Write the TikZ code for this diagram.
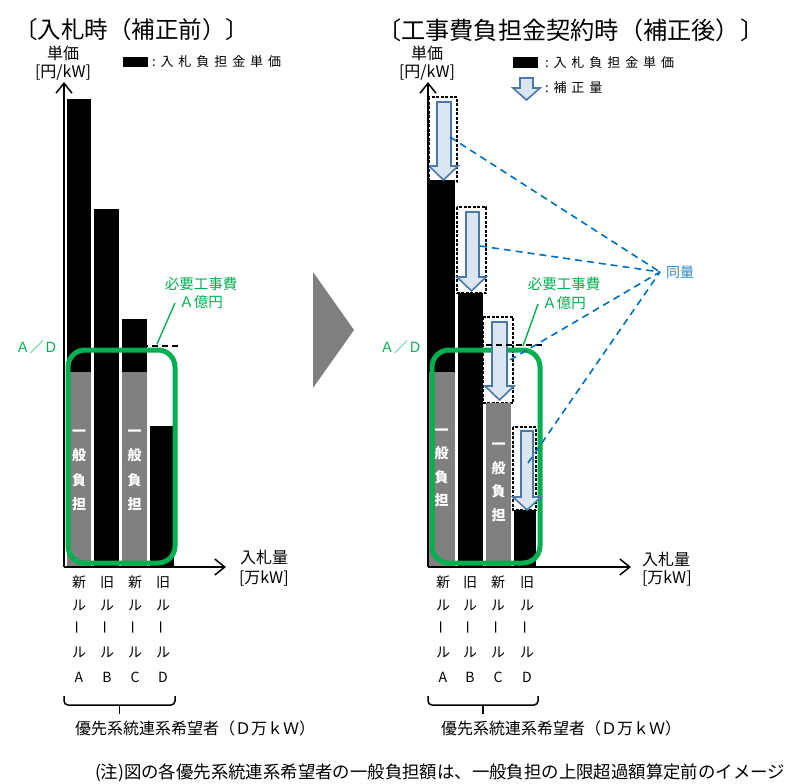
\documentclass[tikz,border=0pt]{standalone}
\usepackage{fontspec}
\setmainfont{Noto Sans CJK JP}
\newfontfamily\lsfont[LetterSpace=38]{Noto Sans CJK JP}
\usetikzlibrary{arrows.meta}
\definecolor{grn}{HTML}{00B050}
\definecolor{dblue}{HTML}{0070C0}
\definecolor{qblue}{HTML}{2E86C8}
\definecolor{afill}{HTML}{DCE6F2}
\definecolor{aline}{HTML}{4A78AA}
\definecolor{gbar}{HTML}{808080}
\definecolor{tri}{HTML}{7F7F7F}
\newcommand\fsz[2]{\fontsize{#1}{#2}\selectfont}
\newcommand\blkarrow[7]{%
  \filldraw[blkarr] (#3,#5) -- (#4,#5) -- (#4,#6) -- (#2,#6) -- ({(#1+#2)/2},#7) -- (#1,#6) -- (#3,#6) -- cycle;}
\tikzset{
  txt/.style={inner sep=0pt, outer sep=0pt},
  axisline/.style={line width=1.5pt, -{Straight Barb[length=10pt,width=16pt]}},
  grnbox/.style={draw=grn, line width=5pt, rounded corners=17pt},
  blkdash/.style={line width=1.3pt, dash pattern=on 6pt off 4pt},
  oldbox/.style={draw=black, fill=white, line width=1.6pt, dash pattern=on 3pt off 1.5pt},
  blkarr/.style={fill=afill, draw=aline, line width=1.6pt, line join=miter},
  bdash/.style={draw=dblue, line width=1.6pt, dash pattern=on 7pt off 5pt},
  leader/.style={draw=grn, line width=1.4pt},
  gtext/.style={txt, text=grn, font=\fsz{14.5}{18}},
  wtext/.style={txt, text=white, align=center, font=\bfseries\fsz{14}{24.5}},
  cat/.style={txt, font=\fsz{14}{16}},
  brace/.style={line width=1.5pt}
}
\begin{document}
\begin{tikzpicture}[x=1pt,y=-1pt]
\useasboundingbox (0,0) rectangle (787,784);

% ---------- titles ----------
\node[txt, anchor=west, font=\fsz{23.5}{26}] (t1) at (14,30) {〔入札時（補正前）〕};
\node[txt, anchor=west, font=\fsz{24.2}{26}] (t2) at (377,30) {〔工事費負担金契約時（補正後）〕};

% ---------- left chart ----------
\draw[blkdash] (122,346) -- (180,346);
\fill[black] (67,99) rectangle (91,372);
\fill[gbar] (67,372) rectangle (91,567);
\fill[black] (94,209) rectangle (119,567);
\fill[black] (122,319) rectangle (147,372);
\fill[gbar] (122,372) rectangle (147,567);
\fill[black] (150,426) rectangle (174,567);
\draw[grnbox] (68,350) rectangle (175,563);
\node[wtext] (lga) at (79,470.5) {一\\般\\負\\担};
\node[wtext] (lgc) at (134.5,470.5) {一\\般\\負\\担};

\coordinate (lo) at (64,567);
\coordinate (lyt) at (64,82);
\coordinate (lxt) at (226,567);
\draw[axisline] (lo) -- (lyt);
\draw[axisline] (lo) -- (lxt);

\node[txt, font=\fsz{16}{18}] (ly1) at (63,53) {単価};
\node[txt, font=\fsz{16}{18}] (ly2) at (63,73) {[円/kW]};
\node[txt, anchor=west, font=\fsz{16}{18}] (lx1) at (240,557) {入札量};
\node[txt, anchor=west, font=\fsz{16}{18}] (lx2) at (239,578) {[万kW]};

\fill[black] (123,57) rectangle (148,67);
\node[txt, anchor=west, font=\fsz{13}{15}\lsfont] (lleg) at (152,62) {:入札負担金単価};

\node[txt, text=grn, font=\fsz{14}{16}] (lad) at (37,347) {Ａ／Ｄ};
\node[gtext] (lk1) at (201,284) {必要工事費};
\node[gtext] (lk2) at (201,302) {Ａ億円};
\coordinate (lkt) at (175,303);
\coordinate (lkb) at (157,344);
\draw[leader] (lkt) -- (lkb);

\foreach \cx/\a/\b [count=\i] in {79/新/A, 107/旧/B, 135/新/C, 163/旧/D}{
  \node[cat] (lc\i a) at (\cx,582) {\a};
  \node[cat] (lc\i b) at (\cx,605) {ル};
  \node[cat, rotate=90] (lc\i c) at (\cx,627) {ー};
  \node[cat] (lc\i d) at (\cx,652) {ル};
  \node[cat] (lc\i e) at (\cx,677) {\b};
}
\draw[brace] (64,696) -- (64,701) to[out=-90,in=180] (68,705) -- (171,705) to[out=0,in=-90] (175,701) -- (175,696);
\draw[brace] (119.5,705) -- (119.5,714);
\node[txt, font=\fsz{16}{18}] (lgrp) at (195,728) {優先系統連系希望者（Ｄ万ｋＷ）};

% ---------- middle triangle ----------
\fill[tri] (313,272) -- (354,330) -- (313,388) -- cycle;

% ---------- right chart ----------
\draw[oldbox] (429,97) rectangle (457,182);
\draw[oldbox] (457,207) rectangle (486,293);
\draw[oldbox] (483,317) rectangle (513,403);
\draw[oldbox] (513,427) rectangle (536,510);
\fill[black] (428,180) rectangle (455,372);
\fill[gbar] (428,372) rectangle (455,567);
\fill[black] (458,293) rectangle (483,567);
\fill[gbar] (486,403) rectangle (511,567);
\fill[black] (514,510) rectangle (536,567);
\draw[grnbox] (432,350) rectangle (540,563);
\node[wtext, font=\bfseries\fsz{14}{23.5}] (rga) at (441.5,468) {一\\般\\負\\担};
\node[wtext, font=\bfseries\fsz{14}{23.5}] (rgc) at (498.5,482.5) {一\\般\\負\\担};

\blkarrow{429}{458}{437}{451}{102}{166}{180}
\blkarrow{457}{486}{466}{479}{212}{277}{291}
\blkarrow{485}{514}{492}{507}{322}{386}{400}
\blkarrow{513}{541}{521}{533}{431}{497}{510}
\draw[blkdash] (486,345) -- (543,345);

\coordinate (ro) at (428,567);
\coordinate (ryt) at (428,82);
\coordinate (rxt) at (631,567);
\draw[axisline] (ro) -- (ryt);
\draw[axisline] (ro) -- (rxt);

\node[txt, font=\fsz{16}{18}] (ry1) at (427,53) {単価};
\node[txt, font=\fsz{16}{18}] (ry2) at (427,73) {[円/kW]};
\node[txt, anchor=west, font=\fsz{16}{18}] (rx1) at (642,559) {入札量};
\node[txt, anchor=west, font=\fsz{16}{18}] (rx2) at (642,578) {[万kW]};

\fill[black] (513,57) rectangle (538,68);
\node[txt, anchor=west, font=\fsz{13}{15}\lsfont] (rleg1) at (545,63) {:入札負担金単価};
\blkarrow{513}{540}{520}{533}{78}{88}{100}
\node[txt, anchor=west, font=\fsz{13}{15}\lsfont] (rleg2) at (545,88) {:補正量};

\node[txt, text=grn, font=\fsz{14}{16}] (rad) at (401,347) {Ａ／Ｄ};
\node[gtext] (rk1) at (564,284) {必要工事費};
\node[gtext] (rk2) at (564,303) {Ａ億円};
\coordinate (rkt) at (538,304);
\coordinate (rkb) at (523,346);
\draw[leader] (rkt) -- (rkb);

\node[txt, anchor=west, text=qblue, font=\fsz{14}{16}] (same) at (666,272) {同量};
\coordinate (sp) at (660,272);
\coordinate (qa) at (450,137);
\coordinate (qb) at (480,246);
\coordinate (qc) at (510,360);
\coordinate (qd) at (528,463);
\draw[bdash] (qa) -- (sp);
\draw[bdash] (qb) -- (sp);
\draw[bdash] (qc) -- (sp);
\draw[bdash] (qd) -- (sp);

\foreach \cx/\a/\b [count=\i] in {443/新/A, 470/旧/B, 498/新/C, 527/旧/D}{
  \node[cat] (rc\i a) at (\cx,582) {\a};
  \node[cat] (rc\i b) at (\cx,605) {ル};
  \node[cat, rotate=90] (rc\i c) at (\cx,627) {ー};
  \node[cat] (rc\i d) at (\cx,652) {ル};
  \node[cat] (rc\i e) at (\cx,677) {\b};
}
\draw[brace] (428,696) -- (428,701) to[out=-90,in=180] (432,705) -- (534,705) to[out=0,in=-90] (538,701) -- (538,696);
\draw[brace] (483,705) -- (483,714);
\node[txt, font=\fsz{16}{18}] (rgrp) at (561,728) {優先系統連系希望者（Ｄ万ｋＷ）};

% ---------- footnote ----------
\node[txt, anchor=west, font=\fsz{17.4}{20}] (note) at (95,773) {(注)図の各優先系統連系希望者の一般負担額は、一般負担の上限超過額算定前のイメージ};
\end{tikzpicture}
\end{document}
